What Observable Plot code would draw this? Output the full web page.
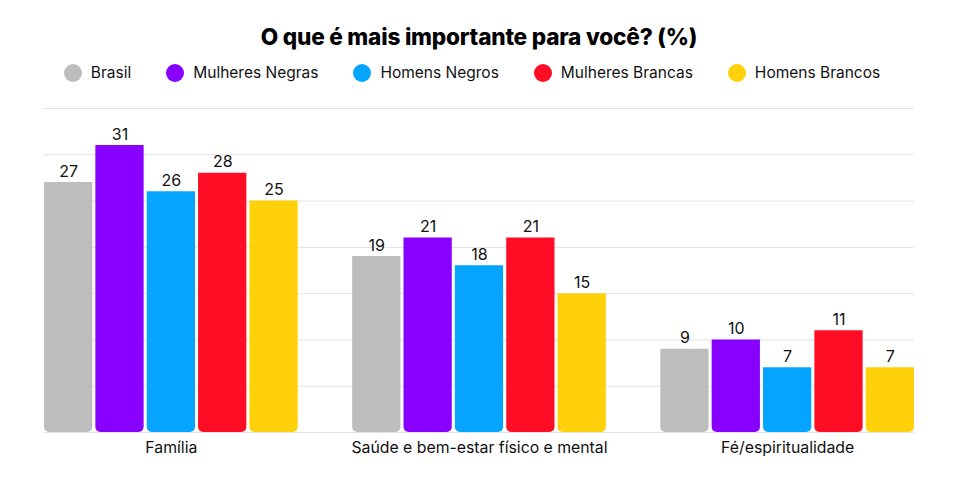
<!DOCTYPE html>
<html><head><meta charset="utf-8">
<script src="https://cdn.jsdelivr.net/npm/d3@7"></script>
<script src="https://cdn.jsdelivr.net/npm/@observablehq/plot@0.6"></script>
<style>
body{margin:0;background:#fff;font-family:Inter,"Noto Sans",sans-serif;color:#111;width:958px;}
#title{height:50px;box-sizing:border-box;padding-top:24px;text-align:center;font-weight:800;font-size:22.6px;line-height:26px;color:#000;letter-spacing:-0.2px}
#legend{height:45px;box-sizing:border-box;padding-right:14px;display:flex;justify-content:center;align-items:center;gap:35px;font-size:15.5px;color:#111}
#legend .item{display:flex;align-items:center;gap:9px}
#legend .dot{width:18px;height:18px;border-radius:50%}
</style></head><body>
<div id="title">O que é mais importante para você? (%)</div>
<div id="legend"></div>
<div id="chart"></div>
<script>
const categories = ["Família", "Saúde e bem-estar físico e mental", "Fé/espiritualidade"];
const seriesNames = ["Brasil", "Mulheres Negras", "Homens Negros", "Mulheres Brancas", "Homens Brancos"];
const brasil = [27, 19, 9];
const mulheresNegras = [31, 21, 10];
const homensNegros = [26, 18, 7];
const mulheresBrancas = [28, 21, 11];
const homensBrancos = [25, 15, 7];
const colors = ["#bdbdbd", "#8800ff", "#05a5ff", "#ff0d24", "#ffd10a"];
const yTicks = [0, 5, 10, 15, 20, 25, 30, 35];

const seriesValues = [brasil, mulheresNegras, homensNegros, mulheresBrancas, homensBrancos];
const rows = [];
const domain = [];
const centerKeys = [];
const keyLabel = {};
categories.forEach((c, i) => {
  seriesNames.forEach((s, j) => {
    const key = c + "|" + s;
    rows.push({key, category: c, series: s, value: seriesValues[j][i]});
    domain.push(key);
    if (j === 2) { centerKeys.push(key); keyLabel[key] = c; }
  });
  if (i < categories.length - 1) domain.push("gap" + i);
});

// legend
const leg = document.getElementById("legend");
seriesNames.forEach((s, j) => {
  const it = document.createElement("div"); it.className = "item";
  const d = document.createElement("span"); d.className = "dot"; d.style.background = colors[j];
  const t = document.createElement("span"); t.textContent = s;
  it.append(d, t); leg.append(it);
});

const chart = Plot.plot({
  width: 958,
  height: 384,
  marginTop: 13,
  marginBottom: 47,
  marginLeft: 44,
  marginRight: 44,
  style: {fontFamily: "Inter, 'Noto Sans', sans-serif", background: "#fff", color: "#111"},
  x: {type: "band", domain, paddingInner: 0.06, paddingOuter: 0, round: false, axis: null},
  y: {domain: [0, 35], axis: null},
  color: {domain: seriesNames, range: colors},
  marks: [
    Plot.ruleY(yTicks, {stroke: "#e2e2e2", strokeWidth: 1}),
    Plot.barY(rows, {x: "key", y: "value", fill: "series", inset: 0, rx1y2: 5, rx2y2: 5}),
    Plot.text(rows, {x: "key", y: "value", text: d => String(d.value), dy: -6, lineAnchor: "bottom", fontSize: 16, fill: "#111"}),
    Plot.axisX({ticks: centerKeys, tickFormat: k => keyLabel[k], tickSize: 0, tickPadding: 9, fontSize: 15.8, label: null})
  ]
});
document.getElementById("chart").append(chart);
</script>
</body></html>
